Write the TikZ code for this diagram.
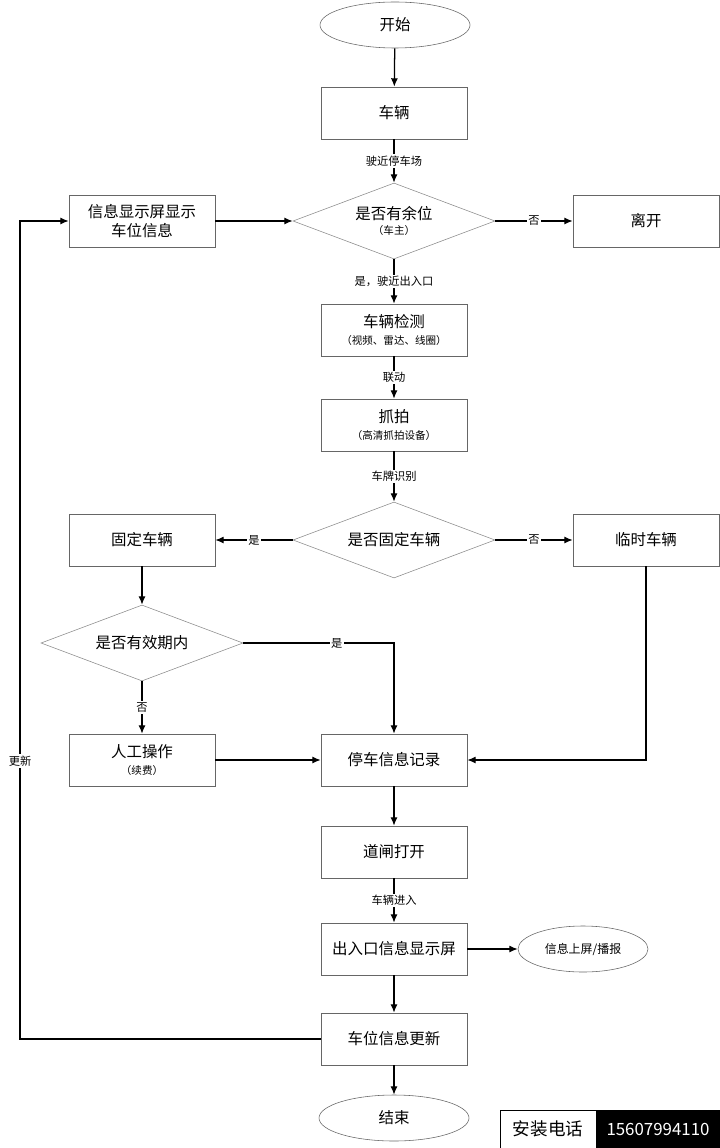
\documentclass[tikz,border=0pt]{standalone}
\usepackage{fontspec}
\setmainfont{Noto Sans CJK SC}
\usetikzlibrary{shapes.geometric,arrows.meta}
\tikzset{
  box/.style={draw=black!60, fill=white, minimum width=146*0.025cm, minimum height=52*0.025cm, inner sep=0pt, font=\fontsize{11}{13}\selectfont, align=center},
  dec/.style={diamond, aspect=2.7, draw=black!45, fill=white, minimum width=202*0.025cm, minimum height=76*0.025cm, inner sep=0pt, font=\fontsize{11}{13}\selectfont, align=center},
  term/.style={ellipse, draw=black!60, fill=white, minimum width=150*0.025cm, minimum height=46*0.025cm, font=\fontsize{11}{13}\selectfont},
  lab/.style={fill=white, inner sep=1pt, font=\fontsize{8}{9}\selectfont},
  flow/.style={draw=black, line width=0.9pt, -{Latex[length=6pt,width=5pt]}}
}
\begin{document}
\begin{tikzpicture}[x=0.025cm, y=-0.025cm]
\useasboundingbox (0,0) rectangle (720,1148);
% nodes
\node[term] (start) at (395,25) {开始};
\node[box] (car) at (394,113) {车辆};
\node[dec] (space) at (394,221) {是否有余位\\[-2pt]{\fontsize{7.5}{9}\selectfont（车主）}};
\node[box] (leave) at (646,221) {离开};
\node[box] (screen) at (142,221) {信息显示屏显示\\车位信息};
\node[box] (detect) at (394,330) {车辆检测\\[-1pt]{\fontsize{7.5}{9}\selectfont（视频、雷达、线圈）}};
\node[box] (snap) at (394,425) {抓拍\\[-1pt]{\fontsize{7.5}{9}\selectfont（高清抓拍设备）}};
\node[dec] (fixed) at (394,540) {是否固定车辆};
\node[box] (fixcar) at (142,540) {固定车辆};
\node[box] (tmpcar) at (646,540) {临时车辆};
\node[dec] (valid) at (142,643) {是否有效期内};
\node[box] (manual) at (142,760) {人工操作\\[-1pt]{\fontsize{7.5}{9}\selectfont（续费）}};
\node[box] (record) at (394,760) {停车信息记录};
\node[box] (gate) at (394,852) {道闸打开};
\node[box] (show) at (394,949) {出入口信息显示屏};
\node[term, minimum width=130*0.025cm, font=\fontsize{8.5}{10}\selectfont] (play) at (583,949) {信息上屏/播报};
\node[box] (update) at (394,1039) {车位信息更新};
\node[term] (stop) at (394,1118) {结束};
% connectors
\draw[flow] (start) -- (car);
\draw[flow] (car) -- node[lab]{驶近停车场} (space);
\draw[flow] (space) -- node[lab]{否} (leave);
\draw[flow] (screen) -- (space);
\draw[flow] (space) -- node[lab]{是，驶近出入口} (detect);
\draw[flow] (detect) -- node[lab]{联动} (snap);
\draw[flow] (snap) -- node[lab]{车牌识别} (fixed);
\draw[flow] (fixed) -- node[lab]{是} (fixcar);
\draw[flow] (fixed) -- node[lab]{否} (tmpcar);
\draw[flow] (fixcar) -- (valid);
\draw[flow] (valid.east) -| node[lab, pos=0.31]{是} (record.north);
\draw[flow] (valid) -- node[lab]{否} (manual);
\draw[flow] (manual) -- (record);
\draw[flow] (tmpcar.south) |- (record.east);
\draw[flow] (record) -- (gate);
\draw[flow] (gate) -- node[lab]{车辆进入} (show);
\draw[flow] (show) -- (play);
\draw[flow] (show) -- (update);
\draw[flow] (update) -- (stop);
\coordinate (turn) at (20,1039);
\draw[flow] (update.west) -- (turn) |- node[lab, pos=0.17]{更新} (screen.west);
% badge
\node[draw=black, fill=white, minimum width=96*0.025cm, minimum height=38*0.025cm, inner sep=0pt, font=\fontsize{12.5}{14}\selectfont] (tel) at (548,1129) {安装电话};
\node[fill=black, text=white, minimum width=124*0.025cm, minimum height=38*0.025cm, inner sep=0pt, font=\fontsize{12}{14}\selectfont] (num) at (658,1129) {15607994110};
\end{tikzpicture}
\end{document}
